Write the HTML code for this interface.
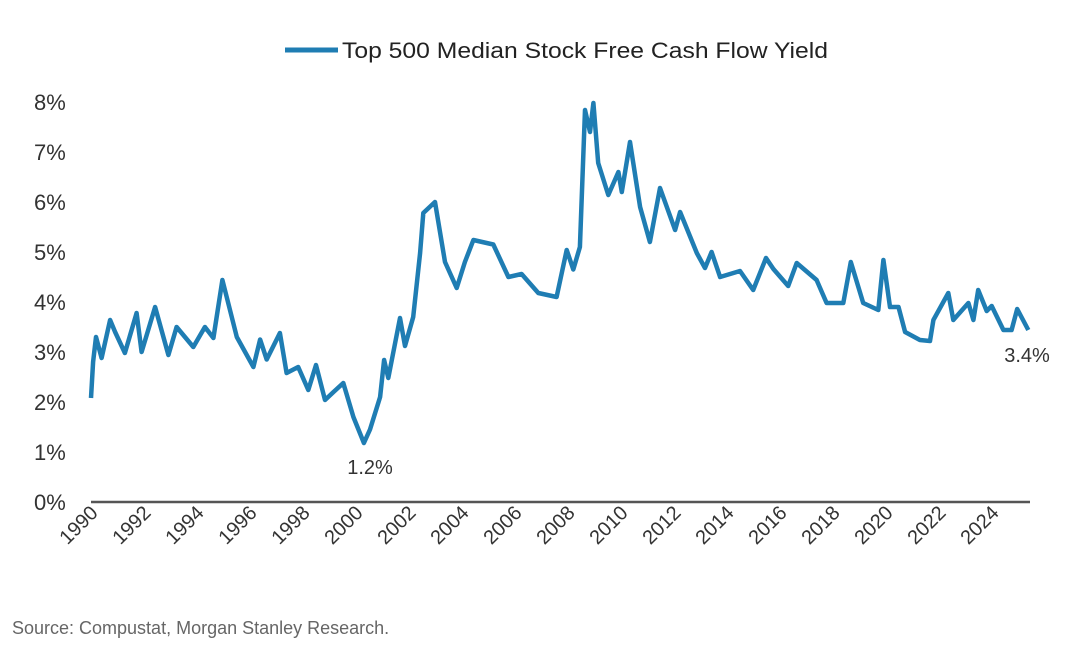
<!DOCTYPE html>
<html><head><meta charset="utf-8"><style>
html,body{margin:0;padding:0;background:#fff;}
svg{display:block;font-family:"Liberation Sans",sans-serif;}
</style></head><body>
<svg id="chart" width="1081" height="663" viewBox="0 0 1081 663">
<line x1="285" y1="50" x2="338" y2="50" stroke="#1f7db3" stroke-width="5"/>
<text x="342" y="58" font-size="22" fill="#222" textLength="486" lengthAdjust="spacingAndGlyphs">Top 500 Median Stock Free Cash Flow Yield</text>
<g id="yaxis"></g>
<g id="xaxis"></g>
<line x1="91" y1="502" x2="1030" y2="502" stroke="#555" stroke-width="2.5"/>
<path id="series" fill="none" stroke="#1f7db3" stroke-width="4.5" stroke-linejoin="round"/>
<text x="370" y="474" font-size="20" fill="#333" text-anchor="middle">1.2%</text>
<text x="1027" y="362" font-size="20" fill="#333" text-anchor="middle">3.4%</text>
<text x="12" y="634" font-size="18" fill="#666">Source: Compustat, Morgan Stanley Research.</text>
</svg>
<script>
const years = [1990.0,1990.08,1990.19,1990.40,1990.72,1990.91,1991.28,1991.72,1991.91,1992.42,1992.92,1993.23,1993.86,1994.30,1994.62,1994.96,1995.50,1996.13,1996.38,1996.63,1997.13,1997.38,1997.82,1998.20,1998.49,1998.83,1999.15,1999.52,1999.90,2000.30,2000.53,2000.91,2001.06,2001.22,2001.66,2001.85,2002.16,2002.42,2002.54,2002.98,2003.36,2003.80,2004.11,2004.43,2005.18,2005.75,2006.25,2006.88,2007.57,2007.95,2008.20,2008.45,2008.64,2008.83,2008.96,2009.14,2009.52,2009.90,2010.03,2010.34,2010.72,2011.09,2011.47,2012.04,2012.23,2012.86,2013.17,2013.42,2013.74,2014.49,2014.99,2015.47,2015.75,2016.31,2016.63,2017.38,2017.76,2018.39,2018.67,2019.14,2019.71,2019.90,2020.15,2020.47,2020.72,2021.28,2021.66,2021.79,2022.35,2022.54,2023.11,2023.30,2023.48,2023.80,2023.99,2024.43,2024.74,2024.95,2025.37];
const values = [2.08,2.8,3.3,2.88,3.64,3.4,2.98,3.78,3.0,3.9,2.94,3.5,3.1,3.5,3.28,4.44,3.3,2.7,3.25,2.85,3.38,2.58,2.7,2.24,2.74,2.04,2.2,2.38,1.7,1.18,1.45,2.1,2.84,2.48,3.68,3.12,3.7,4.98,5.78,6.0,4.8,4.28,4.8,5.24,5.15,4.5,4.56,4.18,4.1,5.04,4.65,5.1,7.84,7.4,7.98,6.78,6.14,6.6,6.2,7.2,5.9,5.2,6.28,5.44,5.8,4.98,4.68,5.0,4.5,4.62,4.24,4.88,4.66,4.32,4.78,4.44,3.98,3.98,4.8,3.98,3.84,4.84,3.9,3.9,3.4,3.24,3.22,3.64,4.18,3.64,3.98,3.64,4.24,3.82,3.92,3.44,3.44,3.86,3.44];
const yTicks = [0,1,2,3,4,5,6,7,8];
const xTicks = [1990,1992,1994,1996,1998,2000,2002,2004,2006,2008,2010,2012,2014,2016,2018,2020,2022,2024];
const NS='http://www.w3.org/2000/svg';
function xs(y){return 91+(y-1990)*26.5;}
function ys(v){return 502-v*50;}
const ya=document.getElementById('yaxis');
yTicks.forEach(t=>{
  const e=document.createElementNS(NS,'text');
  
  
  e.setAttribute('x',34);e.setAttribute('y',ys(t)+8);
  e.setAttribute('font-size','22');e.setAttribute('fill','#333');
  e.textContent=t+'%';ya.appendChild(e);
});
const xa=document.getElementById('xaxis');
xTicks.forEach(t=>{
  const e=document.createElementNS(NS,'text');
  
  
  const x=xs(t)+8,y=514;
  e.setAttribute('x',x);e.setAttribute('y',y);
  e.setAttribute('text-anchor','end');
  e.setAttribute('transform','rotate(-45 '+x+' '+y+')');
  e.setAttribute('font-size','20');e.setAttribute('fill','#333');
  e.textContent=t;xa.appendChild(e);
});
let d='';
years.forEach((y,i)=>{d+=(i?'L':'M')+xs(y).toFixed(1)+' '+ys(values[i]).toFixed(1);});
document.getElementById('series').setAttribute('d',d);
</script>
</body></html>
